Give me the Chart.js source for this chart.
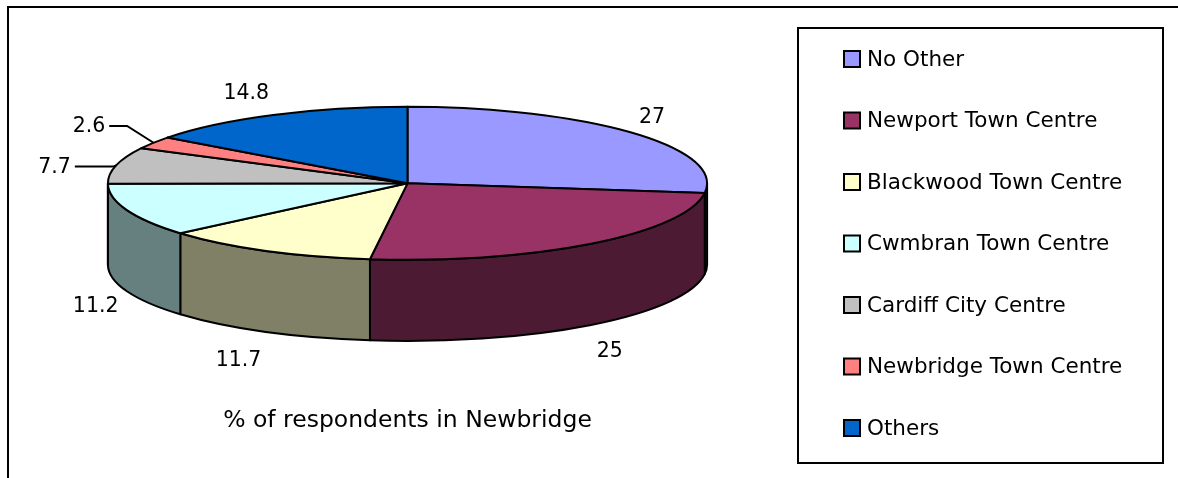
<!DOCTYPE html>
<html>
<head>
<meta charset="utf-8">
<script src="https://cdn.jsdelivr.net/npm/chart.js@4.4.0/dist/chart.umd.min.js"></script>
<style>
  html, body { margin: 0; padding: 0; background: #fff; }
  #wrap { position: relative; width: 1178px; height: 478px; }
</style>
</head>
<body>
<div id="wrap"><canvas id="myChart" width="1178" height="478"></canvas></div>
<script>
// Dados do gráfico
var categories = ['No Other', 'Newport Town Centre', 'Blackwood Town Centre', 'Cwmbran Town Centre',
  'Cardiff City Centre', 'Newbridge Town Centre', 'Others'];
var percentValues = [27, 25, 11.7, 11.2, 7.7, 2.6, 14.8];
var sliceColors = ['#9999FF', '#993366', '#FFFFCC', '#CCFFFF', '#C0C0C0', '#FF8080', '#0066CC'];
var sideColors = ['#4D4D80', '#4D1A33', '#808066', '#668080', '#606060', '#804040', '#003366'];
var chartTitle = '% of respondents in Newbridge';

var FONT = '"DejaVu Sans", Verdana, sans-serif';
var geo = null;

// Desenhar a pizza em 3D a partir dos arcos calculados pelo Chart.js
var pie3d = {
  id: 'pie3d',
  beforeDatasetsDraw: function(chart) {
    var ctx = chart.ctx;
    var arcs = chart.getDatasetMeta(0).data;
    var colors = chart.data.datasets[0].backgroundColor;
    var R = arcs[0].outerRadius;
    var rx = R * 2.585, ry = R * 0.66, depth = R * 0.70;
    var cx = arcs[0].x, cy = arcs[0].y - depth / 2;
    geo = { cx: cx, cy: cy, rx: rx, ry: ry, depth: depth };

    ctx.save();
    ctx.lineWidth = 2;
    ctx.strokeStyle = '#000';
    ctx.lineJoin = 'round';

    // paredes laterais (metade da frente)
    arcs.forEach(function(arc, i) {
      var s = Math.max(arc.startAngle, 0), e = Math.min(arc.endAngle, Math.PI);
      if (e <= s) return;
      ctx.beginPath();
      ctx.ellipse(cx, cy, rx, ry, 0, s, e);
      ctx.lineTo(cx + rx * Math.cos(e), cy + ry * Math.sin(e) + depth);
      ctx.ellipse(cx, cy + depth, rx, ry, 0, e, s, true);
      ctx.closePath();
      ctx.fillStyle = sideColors[i];
      ctx.fill();
      ctx.stroke();
    });

    // faces de cima
    arcs.forEach(function(arc, i) {
      ctx.beginPath();
      ctx.moveTo(cx, cy);
      ctx.ellipse(cx, cy, rx, ry, 0, arc.startAngle, arc.endAngle);
      ctx.closePath();
      ctx.fillStyle = colors[i];
      ctx.fill();
      ctx.stroke();
    });
    ctx.restore();
    return false;
  },
  afterDraw: function(chart) {
    var ctx = chart.ctx;
    var arcs = chart.getDatasetMeta(0).data;
    var values = chart.data.datasets[0].data;
    var colors = chart.data.datasets[0].backgroundColor;
    var g = geo;
    ctx.save();
    ctx.fillStyle = '#000';
    ctx.strokeStyle = '#000';
    ctx.font = '20.5px ' + FONT;
    ctx.textBaseline = 'middle';

    // rótulos de valores
    arcs.forEach(function(arc, i) {
      var a = (arc.startAngle + arc.endAngle) / 2;
      var ca = Math.cos(a), sa = Math.sin(a);
      var px = g.cx + g.rx * ca, py = g.cy + g.ry * sa + (sa > 0 ? g.depth : 0);
      var txt = String(values[i]);
      if (values[i] < 10 && ca < 0 && sa < 0) {
        // rótulo com linha guia
        var c = -sa;
        var ex = px - 80 * (c - 0.2), ey = py - 60 * (c - 0.25);
        var lx = ex - (55 - 70 * c);
        ctx.lineWidth = 2;
        ctx.beginPath();
        ctx.moveTo(px, py);
        ctx.lineTo(ex, ey);
        ctx.lineTo(lx, ey);
        ctx.stroke();
        ctx.textAlign = 'right';
        ctx.fillText(txt, lx - 4, ey + 1);
      } else {
        var tw = ctx.measureText(txt).width;
        var x = px + ca * 9 + Math.sign(ca) * tw / 2;
        var y = py + sa * 26 + (sa > 0 ? 6 : 2);
        ctx.textAlign = 'center';
        ctx.fillText(txt, x, y);
      }
    });

    // borda externa
    ctx.lineWidth = 2;
    ctx.beginPath();
    ctx.moveTo(1178, 7);
    ctx.lineTo(8, 7);
    ctx.lineTo(8, 478);
    ctx.stroke();

    // legenda
    ctx.strokeRect(798, 28, 365, 435);
    ctx.font = '21.5px ' + FONT;
    ctx.textAlign = 'left';
    chart.data.labels.forEach(function(label, i) {
      var y = 59 + i * 61.5;
      ctx.fillStyle = colors[i];
      ctx.fillRect(844, y - 8, 16, 16);
      ctx.strokeRect(844, y - 8, 16, 16);
      ctx.fillStyle = '#000';
      ctx.fillText(label, 867, y + 1);
    });
    ctx.restore();
  }
};

var ctx = document.getElementById('myChart').getContext('2d');
var chart = new Chart(ctx, {
  type: 'pie',
  data: {
    labels: categories,
    datasets: [{
      data: percentValues,
      backgroundColor: sliceColors,
      borderColor: '#000',
      borderWidth: 2
    }]
  },
  options: {
    responsive: false,
    animation: false,
    layout: { padding: { top: 107, right: 363, bottom: 43, left: 0 } },
    plugins: {
      legend: { display: false },
      tooltip: { enabled: false },
      title: {
        display: true,
        text: chartTitle,
        position: 'bottom',
        color: '#000',
        font: { family: FONT, size: 23.5, weight: 'normal' },
        padding: { top: 66, bottom: 0 }
      }
    }
  },
  plugins: [pie3d]
});
</script>
</body>
</html>
